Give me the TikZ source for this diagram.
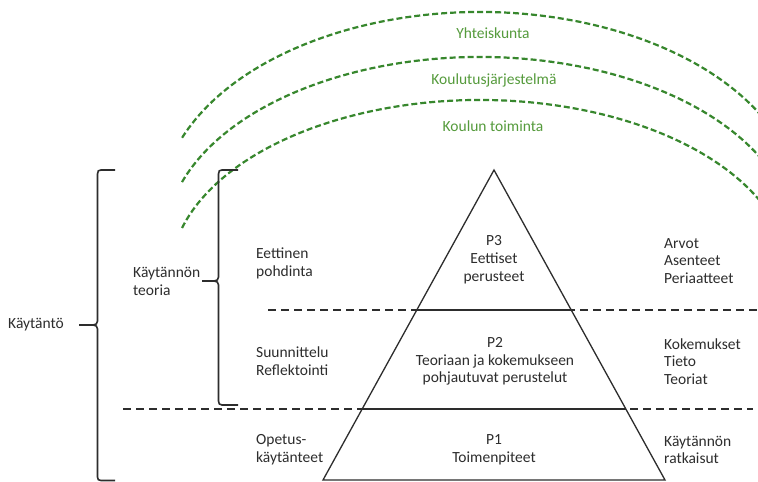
\documentclass[tikz,border=0pt]{standalone}
\usepackage{fontspec}
\setmainfont{Carlito}
\usetikzlibrary{calc}
\definecolor{txtgray}{RGB}{45,45,45}
\definecolor{arcgreen}{RGB}{55,135,45}
\definecolor{lblgreen}{RGB}{85,155,60}
\tikzset{
  lbl/.style={inner sep=0pt, text=txtgray, font=\fontsize{15.5}{17.8}\selectfont},
  lblL/.style={lbl, anchor=west, align=left},
  lblC/.style={lbl, anchor=center, align=center},
  glbl/.style={inner sep=0pt, text=lblgreen, font=\fontsize{15.5}{17.8}\selectfont, anchor=center},
  garc/.style={draw=arcgreen, line width=2.2pt, dash pattern=on 6pt off 3pt},
  levelline/.style={draw=txtgray, line width=1.8pt, dash pattern=on 8pt off 5pt},
  levelsolid/.style={draw=txtgray, line width=2.8pt},
  tri/.style={draw=txtgray, line width=1.3pt, line join=miter},
  bracepath/.style={draw=txtgray, line width=1.6pt}
}
\begin{document}
\begin{tikzpicture}[x=1pt,y=1pt]
\useasboundingbox (0,0) rectangle (758,482);
\fill[white] (0,0) rectangle (758,482);

% green arcs
\begin{scope}
\clip (0,0) rectangle (758,482);
\draw[garc] ($(480,272)+(158.6:320 and 198)$) arc[start angle=158.6, end angle=29, x radius=320, y radius=198];
\draw[garc] ($(480,240)+(161.1:315 and 185)$) arc[start angle=161.1, end angle=27, x radius=315, y radius=185];
\draw[garc] ($(480,205.3)+(164:310 and 176.7)$) arc[start angle=164, end angle=25, x radius=310, y radius=176.7];
\end{scope}
\node[glbl] (yht) at (493,449) {Yhteiskunta};
\node[glbl] (kjs) at (494,402) {Koulutusjärjestelmä};
\node[glbl] (kto) at (493,356) {Koulun toiminta};

% triangle
\coordinate (apex) at (494,312);
\coordinate (bl) at (323,2);
\coordinate (br) at (665,2);
\draw[tri] (apex) -- (bl) -- (br) -- cycle;

% level lines
\coordinate (u1) at (268,172);
\coordinate (u2) at (758,172);
\coordinate (l1) at (123,73);
\coordinate (l2) at (753,73);
\draw[levelline] (u1) -- (u2);
\draw[levelline] (l1) -- (l2);
\draw[levelsolid] ($(apex)!0.4516!(bl)$) -- ($(apex)!0.4516!(br)$);
\draw[levelsolid] ($(apex)!0.771!(bl)$) -- ($(apex)!0.771!(br)$);

% braces
\draw[bracepath] (115,312) -- (101,312) .. controls (98.5,312) and (97.5,311) .. (97.5,308) -- (97.5,161) .. controls (97.5,158.5) and (96,157) .. (93,157) -- (79,157) -- (93,157) .. controls (96,157) and (97.5,155.5) .. (97.5,153) -- (97.5,5) .. controls (97.5,2.5) and (98.5,1.5) .. (101,1.5) -- (115,1.5);
\draw[bracepath] (238,312) -- (222,312) .. controls (219.5,312) and (218.5,311) .. (218.5,308) -- (218.5,205) .. controls (218.5,202.5) and (217,201) .. (214,201) -- (202,201) -- (214,201) .. controls (217,201) and (218.5,199.5) .. (218.5,197) -- (218.5,81) .. controls (218.5,78.5) and (219.5,77) .. (222,77) -- (238,77);

% left labels
\node[lblL] (kaytanto) at (8,157) {Käytäntö};
\node[lblL] (ktteoria) at (133,200.5) {Käytännön\\teoria};
\node[lblL] (eett) at (256,218.5) {Eettinen\\pohdinta};
\node[lblL] (suun) at (256,120.5) {Suunnittelu\\Reflektointi};
\node[lblL] (opet) at (256,32) {Opetus-\\käytänteet};

% triangle labels
\node[lblC] (p3) at (494,222) {P3\\Eettiset\\perusteet};
\node[lblC] (p2) at (495,120.5) {P2\\Teoriaan ja kokemukseen\\pohjautuvat perustelut};
\node[lblC] (p1) at (494,32.5) {P1\\Toimenpiteet};

% right labels
\node[lblL] (arvot) at (664,221) {Arvot\\Asenteet\\Periaatteet};
\node[lblL] (kok) at (664,120.5) {Kokemukset\\Tieto\\Teoriat};
\node[lblL] (ratk) at (664,32) {Käytännön\\ratkaisut};
\end{tikzpicture}
\end{document}
